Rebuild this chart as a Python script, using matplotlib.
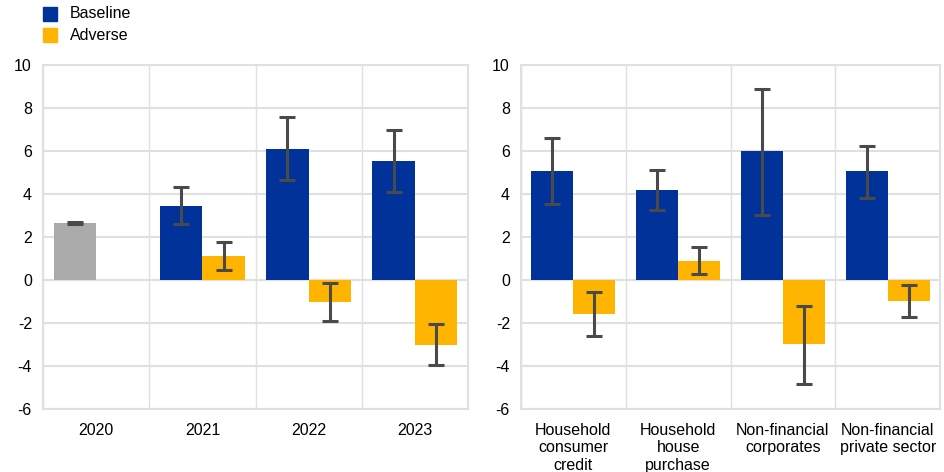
import matplotlib.pyplot as plt
import numpy as np

plt.rcParams['font.family'] = ['Liberation Sans', 'DejaVu Sans']
plt.rcParams['axes.unicode_minus'] = False

BLUE = "#003299"
YELLOW = "#ffb400"
GREY = "#aaaaaa"
ERR = "#4a4a4a"
GRID = "#e0e0e0"
FS = 11.5

# left panel: by year
years = ["2020", "2021", "2022", "2023"]
year_base = [2.65, 3.46, 6.1, 5.52]
year_base_lo = [2.6, 2.6, 4.65, 4.1]
year_base_hi = [2.7, 4.34, 7.58, 6.97]
year_adv = [None, 1.1, -1.03, -3.03]
year_adv_lo = [None, 0.48, -1.92, -3.96]
year_adv_hi = [None, 1.78, -0.15, -2.07]

# right panel: by sector
sectors = ["Household\nconsumer\ncredit", "Household\nhouse\npurchase",
           "Non-financial\ncorporates", "Non-financial\nprivate sector"]
sec_base = [5.05, 4.18, 6.0, 5.05]
sec_base_lo = [3.52, 3.27, 3.02, 3.83]
sec_base_hi = [6.62, 5.12, 8.9, 6.25]
sec_adv = [-1.6, 0.88, -3.0, -0.98]
sec_adv_lo = [-2.6, 0.27, -4.82, -1.72]
sec_adv_hi = [-0.57, 1.52, -1.19, -0.25]

w = 0.4


def draw_bars(ax, x, vals, lo, hi, colors):
    vals = np.array(vals, dtype=float)
    lo = np.array(lo, dtype=float)
    hi = np.array(hi, dtype=float)
    ax.bar(x, vals, width=w, color=colors, zorder=2)
    ax.errorbar(x, vals, yerr=[vals - lo, hi - vals], fmt="none", ecolor=ERR,
                elinewidth=2.2, capsize=5.5, capthick=2.2, zorder=3)


def style(ax, labels):
    n = len(labels)
    ax.set_xlim(-0.5, n - 0.5)
    ax.set_ylim(-6, 10)
    ax.set_yticks(range(-6, 11, 2))
    ax.set_xticks(range(n))
    ax.set_xticklabels(labels, fontsize=FS, linespacing=1.2)
    ax.set_xticks(np.arange(-0.5, n, 1), minor=True)
    ax.grid(axis="x", which="minor", color=GRID, lw=1, zorder=0)
    ax.grid(axis="y", which="major", color=GRID, lw=1.5, zorder=0)
    ax.tick_params(axis="both", which="both", length=0, labelsize=FS, colors="black")
    ax.tick_params(axis="x", pad=10)
    ax.tick_params(axis="y", pad=8)
    for s in ax.spines.values():
        s.set_color(GRID)
        s.set_linewidth(1.5)
    ax.set_axisbelow(True)


fig = plt.figure(figsize=(9.44, 4.72), dpi=100)
ax1 = fig.add_axes([0.0456, 0.1335, 0.4502, 0.7288])
ax2 = fig.add_axes([0.5519, 0.1335, 0.4439, 0.7288])

x = np.arange(len(years))
draw_bars(ax1, x - w / 2, year_base, year_base_lo, year_base_hi,
          [GREY] + [BLUE] * (len(years) - 1))
adv_idx = [i for i, v in enumerate(year_adv) if v is not None]
draw_bars(ax1, x[adv_idx] + w / 2,
          [year_adv[i] for i in adv_idx],
          [year_adv_lo[i] for i in adv_idx],
          [year_adv_hi[i] for i in adv_idx], YELLOW)
style(ax1, years)

x2 = np.arange(len(sectors))
draw_bars(ax2, x2 - w / 2, sec_base, sec_base_lo, sec_base_hi, BLUE)
draw_bars(ax2, x2 + w / 2, sec_adv, sec_adv_lo, sec_adv_hi, YELLOW)
style(ax2, sectors)

# legend
fig.patches.append(plt.Rectangle((43 / 944, 1 - 21 / 472), 14 / 944, 14 / 472,
                                 transform=fig.transFigure, color=BLUE))
fig.patches.append(plt.Rectangle((43 / 944, 1 - 42 / 472), 14 / 944, 14 / 472,
                                 transform=fig.transFigure, color=YELLOW))
fig.text(70 / 944, 1 - 14 / 472, "Baseline", fontsize=FS, va="center")
fig.text(70 / 944, 1 - 35 / 472, "Adverse", fontsize=FS, va="center")

fig.savefig("out.png", dpi=100)
